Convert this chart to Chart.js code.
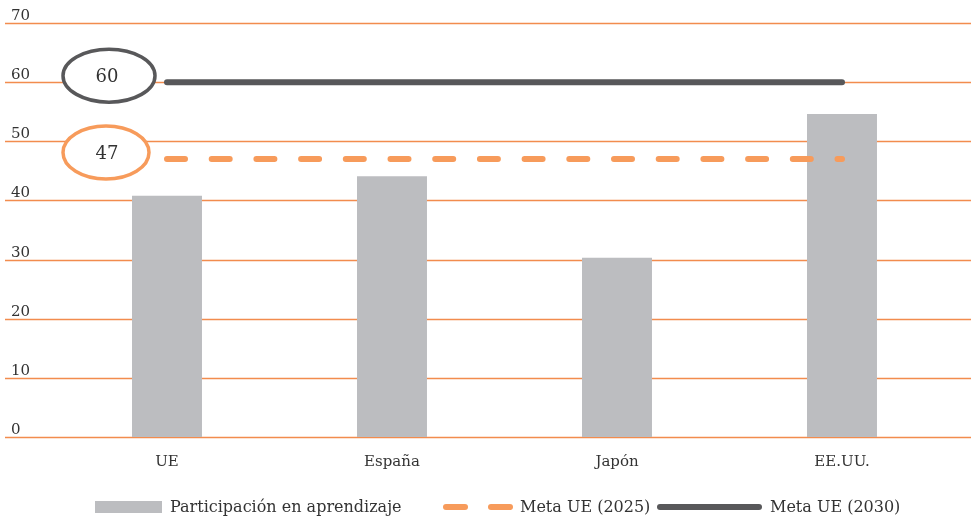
<!DOCTYPE html>
<html>
<head>
<meta charset="utf-8">
<script src="https://cdn.jsdelivr.net/npm/chart.js@4"></script>
<style>
  html, body { margin: 0; padding: 0; background: #fff; }
  #wrap { position: relative; width: 971px; height: 519px; }
  #chart { position: absolute; left: 0; top: 0; }
  #legend {
    position: absolute; left: 0; top: 496px; width: 971px; height: 22px;
    font-family: "DejaVu Serif", serif; font-size: 16px; color: #333;
  }
  .item { position: absolute; top: 0; height: 22px; line-height: 22px; white-space: nowrap; }
  .sw { position: absolute; }
</style>
</head>
<body>
<div id="wrap">
  <canvas id="chart" width="971" height="498"></canvas>
  <div id="legend"></div>
</div>
<script>
const categories = ['UE', 'España', 'Japón', 'EE.UU.'];
const participation = [40.8, 44.1, 30.3, 54.6];
const target2025 = [47, 47, 47, 47];
const target2030 = [60, 60, 60, 60];
const yTicks = [0, 10, 20, 30, 40, 50, 60, 70];
// callouts drawn left of the first bar: label, value it sits at
const callouts = [
  { text: '60', value: 61.1, color: '#58585a' },
  { text: '47', value: 48.1, color: '#f79b5b' }
];

const FONT = '"DejaVu Serif", serif';

// grid lines that run past the plot area, with labels sitting above them
const gridPlugin = {
  id: 'fullGrid',
  beforeDatasetsDraw(chart) {
    const ctx = chart.ctx;
    const y = chart.scales.y;
    ctx.save();
    ctx.strokeStyle = '#f28c4e';
    ctx.lineWidth = 1.3;
    ctx.fillStyle = '#333';
    ctx.font = '15px ' + FONT;
    ctx.textAlign = 'left';
    ctx.textBaseline = 'alphabetic';
    yTicks.forEach(v => {
      const py = Math.round(y.getPixelForValue(v)) + 0.5;
      ctx.beginPath();
      ctx.moveTo(5, py);
      ctx.lineTo(chart.width, py);
      ctx.stroke();
      ctx.fillText(String(v), 11, py - 3.5);
    });
    ctx.restore();
  }
};

const calloutPlugin = {
  id: 'callouts',
  afterDatasetsDraw(chart) {
    const ctx = chart.ctx;
    const x = chart.scales.x;
    const y = chart.scales.y;
    const cx = x.getPixelForValue(0) - 59;
    ctx.save();
    callouts.forEach((c, i) => {
      const cy = y.getPixelForValue(c.value);
      const rx = i === 0 ? 46 : 43;
      ctx.beginPath();
      ctx.ellipse(cx + (i === 0 ? 1 : -2), cy, rx, 26.5, 0, 0, Math.PI * 2);
      ctx.fillStyle = '#fff';
      ctx.fill();
      ctx.lineWidth = 3.5;
      ctx.strokeStyle = c.color;
      ctx.stroke();
      ctx.fillStyle = '#333';
      ctx.font = '18px ' + FONT;
      ctx.textAlign = 'center';
      ctx.textBaseline = 'middle';
      ctx.fillText(c.text, cx - 1, cy + 2);
    });
    ctx.restore();
  }
};

const chart = new Chart(document.getElementById('chart'), {
  data: {
    labels: categories,
    datasets: [
      {
        type: 'line',
        label: 'Meta UE (2030)',
        data: target2030,
        borderColor: '#58585a',
        borderWidth: 6,
        borderCapStyle: 'round',
        pointRadius: 0,
        fill: false,
        order: 1
      },
      {
        type: 'line',
        label: 'Meta UE (2025)',
        data: target2025,
        borderColor: '#f79b5b',
        borderWidth: 6,
        borderCapStyle: 'round',
        borderDash: [18, 26.7],
        pointRadius: 0,
        fill: false,
        order: 2
      },
      {
        type: 'bar',
        label: 'Participación en aprendizaje',
        data: participation,
        backgroundColor: '#bcbdc0',
        categoryPercentage: 1,
        barPercentage: 0.311,
        order: 3
      }
    ]
  },
  options: {
    responsive: false,
    animation: false,
    layout: { padding: { left: 54.5, right: 16.5, top: 23, bottom: 11 } },
    plugins: {
      legend: { display: false },
      tooltip: { enabled: false }
    },
    scales: {
      x: {
        grid: { display: false, drawTicks: false },
        border: { display: false },
        ticks: {
          padding: 16,
          color: '#333',
          font: { family: FONT, size: 15 }
        }
      },
      y: {
        display: false,
        min: 0,
        max: 70,
        ticks: { stepSize: 10 }
      }
    }
  },
  plugins: [gridPlugin, calloutPlugin]
});

// html legend built from the datasets
const legend = document.getElementById('legend');
const legendSpots = [
  { label: 'Participación en aprendizaje', left: 95, text: 170 },
  { label: 'Meta UE (2025)', left: 443, text: 520 },
  { label: 'Meta UE (2030)', left: 657, text: 770 }
];
legendSpots.forEach(spot => {
  const ds = chart.data.datasets.find(d => d.label === spot.label);
  let sw = '';
  if (ds.type === 'bar') {
    sw = `<span class="sw" style="left:${spot.left}px;top:5px;width:67px;height:12px;background:${ds.backgroundColor}"></span>`;
  } else if (ds.borderDash) {
    sw = `<span class="sw" style="left:${spot.left}px;top:8px;width:25px;height:6px;border-radius:3px;background:${ds.borderColor}"></span>` +
         `<span class="sw" style="left:${spot.left + 45}px;top:8px;width:25px;height:6px;border-radius:3px;background:${ds.borderColor}"></span>`;
  } else {
    sw = `<span class="sw" style="left:${spot.left}px;top:8px;width:105px;height:6px;border-radius:3px;background:${ds.borderColor}"></span>`;
  }
  legend.insertAdjacentHTML('beforeend', sw + `<span class="item" style="left:${spot.text}px">${ds.label}</span>`);
});
</script>
</body>
</html>
